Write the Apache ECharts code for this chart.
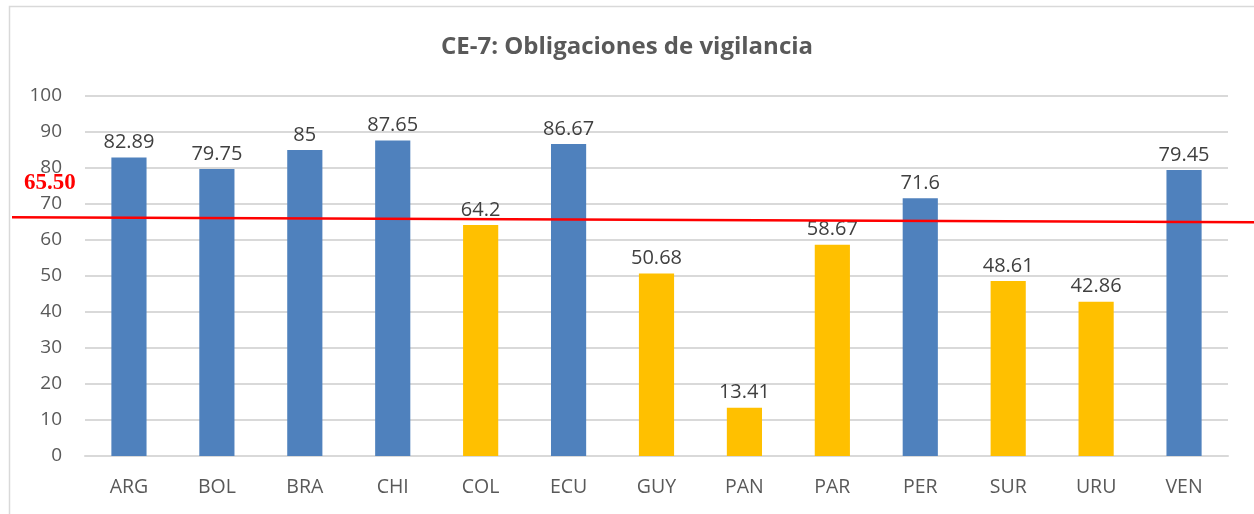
<!DOCTYPE html>
<html>
<head>
<meta charset="utf-8">
<script src="https://cdn.jsdelivr.net/npm/echarts@6/dist/echarts.min.js"></script>
<style>
  html, body { margin: 0; padding: 0; background: #fff; }
  #chart { width: 1254px; height: 514px; }
</style>
</head>
<body>
<div id="chart"></div>
<script>
// datos del gráfico
const countries = ['ARG', 'BOL', 'BRA', 'CHI', 'COL', 'ECU', 'GUY', 'PAN', 'PAR', 'PER', 'SUR', 'URU', 'VEN'];
const scores = [82.89, 79.75, 85, 87.65, 64.2, 86.67, 50.68, 13.41, 58.67, 71.6, 48.61, 42.86, 79.45];
const threshold = 65.5;
const thresholdLabel = '65.50';

const BLUE = '#4f81bd';
const YELLOW = '#ffc000';

const chart = echarts.init(document.getElementById('chart'));

const option = {
  animation: false,
  title: {
    text: 'CE-7: Obligaciones de vigilancia',
    left: 'center',
    top: 30,
    textStyle: {
      fontFamily: 'Open Sans',
      fontWeight: 'bold',
      fontSize: 24,
      color: '#595959'
    }
  },
  grid: { left: 85, right: 26, top: 96, bottom: 58 },
  xAxis: {
    type: 'category',
    data: countries,
    axisTick: { show: false },
    axisLine: { lineStyle: { color: '#d9d9d9', width: 2 } },
    axisLabel: { color: '#595959', fontSize: 19.5, fontFamily: 'Open Sans', margin: 21 }
  },
  yAxis: {
    type: 'value',
    min: 0,
    max: 100,
    interval: 10,
    axisLine: { show: false },
    axisTick: { show: false },
    splitLine: { lineStyle: { color: '#d9d9d9', width: 2 } },
    axisLabel: { color: '#595959', fontSize: 19, fontFamily: 'Open Sans', margin: 23 }
  },
  series: [{
    type: 'bar',
    barWidth: '40%',
    data: scores.map(v => ({
      value: v,
      itemStyle: { color: v >= threshold ? BLUE : YELLOW }
    })),
    label: {
      show: true,
      position: 'top',
      distance: 5,
      color: '#404040',
      fontSize: 20,
      fontFamily: 'Open Sans'
    }
  }]
};

chart.setOption(option);

// línea de referencia y marco, calculados desde la escala
const yRef = chart.convertToPixel({ yAxisIndex: 0 }, threshold);
chart.setOption({
  graphic: [
    {
      type: 'rect',
      shape: { x: 9.5, y: 6.5, width: 1260, height: 520 },
      style: { fill: 'none', stroke: '#d9d9d9', lineWidth: 1.5 },
      silent: true
    },
    {
      type: 'line',
      shape: { x1: 12, y1: yRef - 3, x2: 1254, y2: yRef + 2 },
      style: { stroke: '#ff0000', lineWidth: 2.5 },
      z: 10
    },
    {
      type: 'text',
      left: 24,
      top: yRef - 49,
      style: {
        text: thresholdLabel,
        fill: '#ff0000',
        font: 'bold 23px "Liberation Serif", serif'
      },
      z: 10
    }
  ]
});
</script>
</body>
</html>
